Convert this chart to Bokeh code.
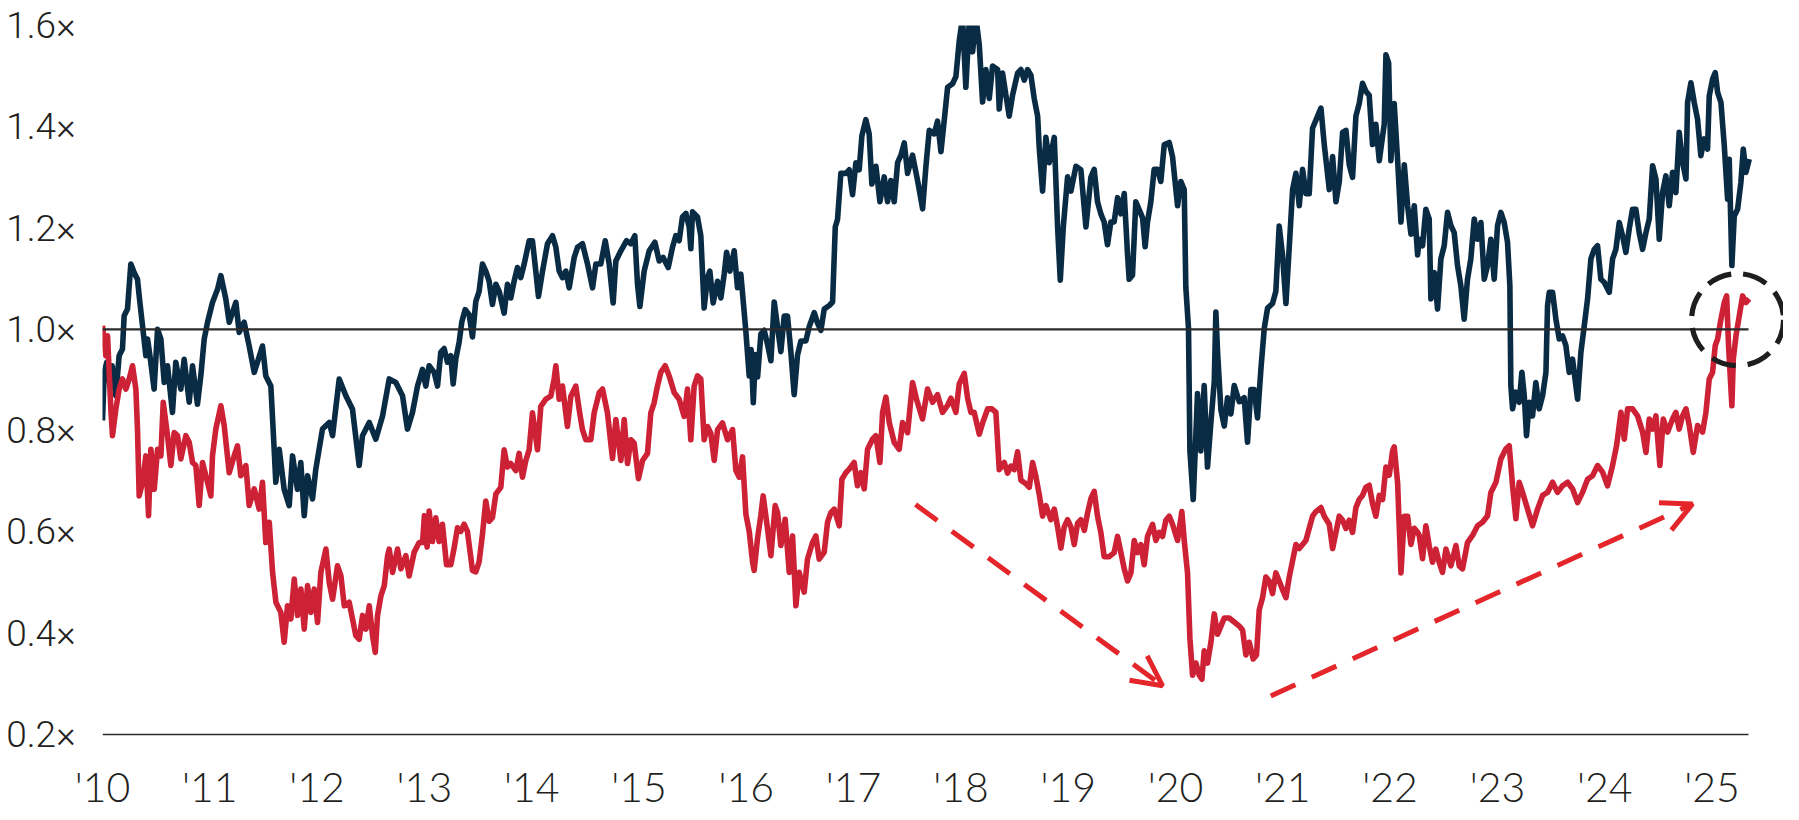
from bokeh.plotting import figure
from bokeh.models import FixedTicker, Arrow, OpenHead, Range1d
from bokeh.embed import file_html
from bokeh.resources import INLINE

# ---------------- data ----------------
navy_years = [
    2010.000, 2010.016, 2010.040, 2010.070, 2010.090, 2010.124, 2010.155, 2010.186, 2010.202, 2010.233,
    2010.264, 2010.295, 2010.326, 2010.345, 2010.373, 2010.404, 2010.420, 2010.450, 2010.481, 2010.513,
    2010.544, 2010.575, 2010.606, 2010.652, 2010.683, 2010.730, 2010.761, 2010.808, 2010.839, 2010.885,
    2010.916, 2010.948, 2010.979, 2011.025, 2011.072, 2011.103, 2011.149, 2011.181, 2011.243, 2011.274,
    2011.320, 2011.367, 2011.414, 2011.491, 2011.522, 2011.569, 2011.600, 2011.615, 2011.647, 2011.693,
    2011.740, 2011.771, 2011.817, 2011.848, 2011.880, 2011.911, 2011.957, 2011.988, 2012.050, 2012.113,
    2012.144, 2012.206, 2012.268, 2012.330, 2012.392, 2012.423, 2012.486, 2012.547, 2012.610, 2012.672,
    2012.734, 2012.796, 2012.842, 2012.889, 2012.936, 2012.982, 2013.013, 2013.044, 2013.091, 2013.122,
    2013.153, 2013.184, 2013.215, 2013.246, 2013.268, 2013.293, 2013.324, 2013.349, 2013.380, 2013.417,
    2013.448, 2013.479, 2013.510, 2013.541, 2013.572, 2013.603, 2013.634, 2013.666, 2013.697, 2013.743,
    2013.774, 2013.805, 2013.836, 2013.867, 2013.898, 2013.930, 2013.976, 2014.007, 2014.038, 2014.063,
    2014.101, 2014.147, 2014.194, 2014.225, 2014.256, 2014.287, 2014.318, 2014.349, 2014.396, 2014.427,
    2014.473, 2014.520, 2014.567, 2014.598, 2014.644, 2014.685, 2014.722, 2014.759, 2014.784, 2014.831,
    2014.884, 2014.924, 2014.961, 2014.986, 2015.008, 2015.048, 2015.095, 2015.148, 2015.188, 2015.225,
    2015.272, 2015.312, 2015.343, 2015.374, 2015.405, 2015.437, 2015.468, 2015.483, 2015.499, 2015.545,
    2015.576, 2015.607, 2015.638, 2015.660, 2015.691, 2015.732, 2015.763, 2015.794, 2015.816, 2015.847,
    2015.887, 2015.918, 2015.949, 2015.974, 2015.996, 2016.027, 2016.045, 2016.065, 2016.085, 2016.105,
    2016.136, 2016.167, 2016.198, 2016.229, 2016.260, 2016.291, 2016.322, 2016.353, 2016.384, 2016.415,
    2016.446, 2016.477, 2016.509, 2016.555, 2016.586, 2016.633, 2016.664, 2016.695, 2016.726, 2016.773,
    2016.804, 2016.829, 2016.850, 2016.881, 2016.928, 2016.959, 2016.990, 2017.021, 2017.052, 2017.077,
    2017.114, 2017.145, 2017.170, 2017.208, 2017.245, 2017.285, 2017.316, 2017.347, 2017.378, 2017.410,
    2017.441, 2017.472, 2017.503, 2017.549, 2017.596, 2017.643, 2017.674, 2017.705, 2017.751, 2017.782,
    2017.814, 2017.845, 2017.876, 2017.922, 2017.953, 2017.984, 2018.015, 2018.046, 2018.078, 2018.109,
    2018.140, 2018.171, 2018.202, 2018.233, 2018.264, 2018.295, 2018.342, 2018.357, 2018.388, 2018.419,
    2018.450, 2018.482, 2018.528, 2018.559, 2018.590, 2018.621, 2018.652, 2018.683, 2018.715, 2018.730,
    2018.761, 2018.792, 2018.823, 2018.870, 2018.901, 2018.926, 2018.954, 2018.994, 2019.025, 2019.072,
    2019.118, 2019.165, 2019.211, 2019.242, 2019.273, 2019.304, 2019.335, 2019.366, 2019.397, 2019.428,
    2019.460, 2019.491, 2019.522, 2019.553, 2019.568, 2019.599, 2019.630, 2019.662, 2019.693, 2019.717,
    2019.739, 2019.770, 2019.801, 2019.832, 2019.863, 2019.895, 2019.941, 2019.972, 2020.019, 2020.050,
    2020.081, 2020.096, 2020.121, 2020.134, 2020.165, 2020.205, 2020.236, 2020.267, 2020.298, 2020.330,
    2020.361, 2020.376, 2020.392, 2020.423, 2020.454, 2020.485, 2020.516, 2020.547, 2020.594, 2020.640,
    2020.671, 2020.702, 2020.733, 2020.764, 2020.796, 2020.827, 2020.858, 2020.904, 2020.935, 2020.966,
    2020.997, 2021.029, 2021.060, 2021.091, 2021.122, 2021.153, 2021.184, 2021.215, 2021.246, 2021.277,
    2021.324, 2021.355, 2021.386, 2021.433, 2021.464, 2021.495, 2021.526, 2021.557, 2021.588, 2021.619,
    2021.650, 2021.681, 2021.712, 2021.743, 2021.774, 2021.805, 2021.836, 2021.867, 2021.899, 2021.945,
    2021.961, 2021.986, 2022.007, 2022.038, 2022.070, 2022.101, 2022.132, 2022.163, 2022.194, 2022.225,
    2022.256, 2022.271, 2022.302, 2022.333, 2022.364, 2022.380, 2022.411, 2022.442, 2022.473, 2022.504,
    2022.535, 2022.566, 2022.597, 2022.628, 2022.659, 2022.690, 2022.721, 2022.752, 2022.784, 2022.815,
    2022.846, 2022.877, 2022.908, 2022.939, 2022.970, 2023.001, 2023.032, 2023.063, 2023.094, 2023.116,
    2023.125, 2023.141, 2023.172, 2023.203, 2023.228, 2023.250, 2023.271, 2023.296, 2023.327, 2023.358,
    2023.389, 2023.421, 2023.452, 2023.467, 2023.483, 2023.514, 2023.545, 2023.576, 2023.607, 2023.638,
    2023.669, 2023.700, 2023.731, 2023.747, 2023.778, 2023.809, 2023.840, 2023.871, 2023.902, 2023.933,
    2023.964, 2023.995, 2024.042, 2024.073, 2024.104, 2024.135, 2024.166, 2024.197, 2024.228, 2024.259,
    2024.290, 2024.321, 2024.353, 2024.384, 2024.415, 2024.446, 2024.477, 2024.508, 2024.539, 2024.570,
    2024.601, 2024.632, 2024.663, 2024.694, 2024.725, 2024.757, 2024.772, 2024.803, 2024.834, 2024.865,
    2024.896, 2024.927, 2024.958, 2024.974, 2025.005, 2025.030, 2025.052, 2025.083, 2025.114, 2025.145,
    2025.160, 2025.185, 2025.207, 2025.238, 2025.269, 2025.291, 2025.316, 2025.347,
]
navy_values = [
    0.820, 0.915, 0.935, 0.889, 0.928, 0.869, 0.948, 0.961, 1.027, 1.040,
    1.129, 1.112, 1.099, 1.060, 1.007, 0.948, 0.981, 0.935, 0.882, 1.000,
    0.981, 0.895, 0.928, 0.836, 0.935, 0.882, 0.941, 0.856, 0.928, 0.852,
    0.908, 0.981, 1.014, 1.053, 1.079, 1.106, 1.060, 1.014, 1.053, 0.994,
    1.014, 0.967, 0.915, 0.967, 0.908, 0.888, 0.763, 0.698, 0.763, 0.684,
    0.652, 0.750, 0.684, 0.737, 0.632, 0.711, 0.665, 0.724, 0.803, 0.816,
    0.790, 0.902, 0.869, 0.842, 0.731, 0.790, 0.816, 0.783, 0.829, 0.902,
    0.895, 0.869, 0.803, 0.836, 0.888, 0.921, 0.888, 0.928, 0.915, 0.888,
    0.955, 0.962, 0.935, 0.948, 0.892, 0.942, 0.975, 1.015, 1.039, 1.029,
    0.985, 1.055, 1.075, 1.129, 1.115, 1.095, 1.049, 1.089, 1.075, 1.032,
    1.089, 1.062, 1.095, 1.122, 1.102, 1.129, 1.175, 1.175, 1.115, 1.065,
    1.115, 1.169, 1.185, 1.162, 1.115, 1.102, 1.115, 1.082, 1.142, 1.162,
    1.169, 1.129, 1.082, 1.129, 1.129, 1.175, 1.129, 1.052, 1.135, 1.155,
    1.175, 1.169, 1.185, 1.089, 1.045, 1.115, 1.155, 1.172, 1.135, 1.142,
    1.122, 1.162, 1.185, 1.175, 1.222, 1.229, 1.202, 1.159, 1.232, 1.222,
    1.185, 1.042, 1.102, 1.115, 1.052, 1.095, 1.062, 1.109, 1.152, 1.115,
    1.155, 1.082, 1.109, 1.049, 0.995, 0.908, 0.960, 0.855, 0.950, 0.906,
    0.991, 0.998, 0.970, 0.938, 1.054, 1.005, 0.956, 1.026, 1.026, 0.956,
    0.871, 0.949, 0.977, 0.977, 1.005, 1.033, 1.012, 0.998, 1.040, 1.047,
    1.054, 1.202, 1.217, 1.308, 1.308, 1.315, 1.266, 1.329, 1.315, 1.382,
    1.414, 1.386, 1.287, 1.322, 1.252, 1.301, 1.252, 1.294, 1.252, 1.329,
    1.344, 1.368, 1.308, 1.344, 1.294, 1.238, 1.322, 1.393, 1.386, 1.411,
    1.351, 1.414, 1.478, 1.485, 1.499, 1.569, 1.615, 1.478, 1.610, 1.548,
    1.615, 1.562, 1.449, 1.513, 1.456, 1.520, 1.513, 1.435, 1.506, 1.463,
    1.421, 1.463, 1.506, 1.513, 1.492, 1.513, 1.502, 1.456, 1.421, 1.358,
    1.273, 1.379, 1.329, 1.379, 1.202, 1.097, 1.202, 1.301, 1.273, 1.322,
    1.315, 1.202, 1.300, 1.316, 1.252, 1.228, 1.212, 1.167, 1.212, 1.212,
    1.260, 1.228, 1.268, 1.147, 1.099, 1.107, 1.252, 1.236, 1.220, 1.163,
    1.212, 1.252, 1.316, 1.316, 1.292, 1.365, 1.369, 1.341, 1.244, 1.292,
    1.276, 1.083, 1.002, 0.760, 0.664, 0.873, 0.760, 0.889, 0.728, 0.817,
    0.897, 1.034, 0.954, 0.841, 0.809, 0.865, 0.833, 0.889, 0.857, 0.865,
    0.777, 0.881, 0.881, 0.825, 0.922, 1.002, 1.042, 1.051, 1.075, 1.204,
    1.147, 1.051, 1.163, 1.276, 1.308, 1.244, 1.316, 1.268, 1.268, 1.397,
    1.421, 1.437, 1.365, 1.276, 1.341, 1.252, 1.292, 1.389, 1.393, 1.325,
    1.300, 1.421, 1.446, 1.486, 1.470, 1.462, 1.365, 1.405, 1.333, 1.405,
    1.542, 1.526, 1.333, 1.446, 1.333, 1.212, 1.325, 1.244, 1.188, 1.244,
    1.147, 1.178, 1.165, 1.237, 1.218, 1.060, 1.112, 1.040, 1.139, 1.165,
    1.231, 1.205, 1.191, 1.126, 1.086, 1.020, 1.099, 1.139, 1.218, 1.178,
    1.211, 1.099, 1.126, 1.178, 1.099, 1.205, 1.231, 1.211, 1.172, 1.086,
    0.889, 0.843, 0.876, 0.856, 0.915, 0.869, 0.790, 0.856, 0.829, 0.895,
    0.843, 0.869, 0.915, 1.047, 1.073, 1.073, 1.020, 0.981, 0.987, 0.968,
    0.915, 0.941, 0.889, 0.862, 0.955, 1.007, 1.060, 1.139, 1.158, 1.165,
    1.099, 1.093, 1.073, 1.139, 1.158, 1.211, 1.185, 1.152, 1.198, 1.237,
    1.237, 1.191, 1.158, 1.191, 1.218, 1.323, 1.297, 1.178, 1.270, 1.303,
    1.244, 1.310, 1.270, 1.389, 1.330, 1.297, 1.448, 1.487, 1.448, 1.415,
    1.343, 1.376, 1.356, 1.461, 1.494, 1.507, 1.468, 1.448, 1.363, 1.257,
    1.336, 1.126, 1.224, 1.237, 1.290, 1.356, 1.310, 1.336,
]

red_years = [
    2010.000, 2010.031, 2010.047, 2010.078, 2010.093, 2010.124, 2010.155, 2010.186, 2010.218, 2010.249,
    2010.280, 2010.311, 2010.326, 2010.342, 2010.373, 2010.404, 2010.429, 2010.451, 2010.482, 2010.513,
    2010.544, 2010.566, 2010.606, 2010.637, 2010.668, 2010.699, 2010.730, 2010.777, 2010.808, 2010.839,
    2010.870, 2010.901, 2010.932, 2010.963, 2011.010, 2011.025, 2011.056, 2011.103, 2011.134, 2011.181,
    2011.227, 2011.258, 2011.289, 2011.336, 2011.367, 2011.414, 2011.460, 2011.491, 2011.522, 2011.554,
    2011.585, 2011.616, 2011.662, 2011.693, 2011.724, 2011.755, 2011.787, 2011.818, 2011.849, 2011.880,
    2011.911, 2011.942, 2011.973, 2012.004, 2012.035, 2012.082, 2012.113, 2012.144, 2012.190, 2012.222,
    2012.253, 2012.299, 2012.330, 2012.361, 2012.392, 2012.424, 2012.455, 2012.486, 2012.517, 2012.542,
    2012.563, 2012.595, 2012.626, 2012.657, 2012.672, 2012.703, 2012.750, 2012.781, 2012.827, 2012.858,
    2012.905, 2012.951, 2012.983, 2013.000, 2013.025, 2013.044, 2013.075, 2013.106, 2013.137, 2013.168,
    2013.206, 2013.246, 2013.277, 2013.308, 2013.339, 2013.370, 2013.401, 2013.448, 2013.479, 2013.510,
    2013.541, 2013.572, 2013.603, 2013.634, 2013.666, 2013.712, 2013.743, 2013.774, 2013.805, 2013.852,
    2013.883, 2013.914, 2013.945, 2013.976, 2014.007, 2014.054, 2014.085, 2014.132, 2014.178, 2014.209,
    2014.225, 2014.256, 2014.287, 2014.333, 2014.365, 2014.411, 2014.442, 2014.473, 2014.504, 2014.551,
    2014.582, 2014.629, 2014.660, 2014.706, 2014.753, 2014.784, 2014.831, 2014.862, 2014.893, 2014.924,
    2014.955, 2014.995, 2015.033, 2015.079, 2015.110, 2015.141, 2015.172, 2015.203, 2015.244, 2015.281,
    2015.328, 2015.374, 2015.421, 2015.452, 2015.483, 2015.514, 2015.545, 2015.576, 2015.607, 2015.638,
    2015.669, 2015.701, 2015.732, 2015.778, 2015.825, 2015.872, 2015.903, 2015.934, 2015.965, 2015.996,
    2016.027, 2016.058, 2016.073, 2016.104, 2016.135, 2016.157, 2016.198, 2016.229, 2016.269, 2016.291,
    2016.322, 2016.362, 2016.400, 2016.431, 2016.462, 2016.493, 2016.539, 2016.570, 2016.617, 2016.648,
    2016.679, 2016.726, 2016.757, 2016.788, 2016.819, 2016.866, 2016.891, 2016.928, 2016.959, 2017.005,
    2017.036, 2017.068, 2017.099, 2017.130, 2017.176, 2017.207, 2017.245, 2017.270, 2017.301, 2017.332,
    2017.378, 2017.425, 2017.456, 2017.503, 2017.549, 2017.586, 2017.642, 2017.689, 2017.736, 2017.782,
    2017.829, 2017.876, 2017.907, 2017.953, 2017.984, 2018.031, 2018.062, 2018.093, 2018.124, 2018.171,
    2018.202, 2018.249, 2018.289, 2018.326, 2018.357, 2018.404, 2018.435, 2018.466, 2018.497, 2018.528,
    2018.559, 2018.606, 2018.637, 2018.668, 2018.699, 2018.730, 2018.761, 2018.792, 2018.839, 2018.870,
    2018.901, 2018.932, 2018.963, 2018.994, 2019.025, 2019.056, 2019.087, 2019.118, 2019.150, 2019.181,
    2019.212, 2019.242, 2019.273, 2019.304, 2019.335, 2019.382, 2019.428, 2019.460, 2019.491, 2019.522,
    2019.553, 2019.584, 2019.615, 2019.646, 2019.677, 2019.708, 2019.739, 2019.786, 2019.817, 2019.848,
    2019.879, 2019.910, 2019.941, 2019.972, 2020.019, 2020.059, 2020.081, 2020.112, 2020.134, 2020.159,
    2020.190, 2020.221, 2020.246, 2020.267, 2020.298, 2020.330, 2020.361, 2020.392, 2020.423, 2020.454,
    2020.500, 2020.547, 2020.594, 2020.625, 2020.656, 2020.687, 2020.724, 2020.755, 2020.780, 2020.811,
    2020.842, 2020.873, 2020.904, 2020.935, 2020.966, 2020.997, 2021.029, 2021.060, 2021.091, 2021.122,
    2021.153, 2021.184, 2021.215, 2021.246, 2021.277, 2021.308, 2021.355, 2021.386, 2021.433, 2021.464,
    2021.495, 2021.526, 2021.557, 2021.588, 2021.619, 2021.650, 2021.681, 2021.712, 2021.743, 2021.774,
    2021.805, 2021.836, 2021.867, 2021.899, 2021.930, 2021.961, 2021.992, 2022.023, 2022.038, 2022.070,
    2022.101, 2022.132, 2022.163, 2022.194, 2022.225, 2022.256, 2022.271, 2022.302, 2022.333, 2022.364,
    2022.395, 2022.426, 2022.457, 2022.488, 2022.520, 2022.566, 2022.613, 2022.644, 2022.675, 2022.721,
    2022.768, 2022.815, 2022.861, 2022.908, 2022.939, 2022.986, 2023.032, 2023.079, 2023.110, 2023.141,
    2023.172, 2023.203, 2023.234, 2023.281, 2023.327, 2023.374, 2023.421, 2023.467, 2023.514, 2023.560,
    2023.607, 2023.654, 2023.700, 2023.747, 2023.793, 2023.840, 2023.887, 2023.933, 2023.980, 2024.026,
    2024.073, 2024.110, 2024.151, 2024.182, 2024.213, 2024.259, 2024.306, 2024.353, 2024.384, 2024.415,
    2024.446, 2024.477, 2024.514, 2024.545, 2024.586, 2024.632, 2024.663, 2024.694, 2024.725, 2024.757,
    2024.788, 2024.825, 2024.865, 2024.912, 2024.943, 2024.974, 2025.005, 2025.030, 2025.052, 2025.083,
    2025.114, 2025.136, 2025.154, 2025.185, 2025.198, 2025.223, 2025.254, 2025.285, 2025.316, 2025.347,
]
red_values = [
    1.007, 0.948, 0.987, 0.842, 0.790, 0.842, 0.882, 0.902, 0.882, 0.902,
    0.928, 0.882, 0.803, 0.671, 0.698, 0.750, 0.632, 0.763, 0.684, 0.763,
    0.750, 0.856, 0.790, 0.731, 0.796, 0.790, 0.744, 0.790, 0.777, 0.737,
    0.731, 0.652, 0.737, 0.711, 0.671, 0.750, 0.803, 0.849, 0.810, 0.717,
    0.750, 0.770, 0.711, 0.731, 0.652, 0.685, 0.645, 0.698, 0.579, 0.619,
    0.520, 0.461, 0.441, 0.382, 0.454, 0.428, 0.507, 0.435, 0.487, 0.408,
    0.494, 0.441, 0.487, 0.421, 0.520, 0.566, 0.500, 0.467, 0.533, 0.513,
    0.454, 0.461, 0.428, 0.395, 0.388, 0.435, 0.408, 0.454, 0.395, 0.362,
    0.435, 0.474, 0.494, 0.553, 0.566, 0.520, 0.566, 0.527, 0.553, 0.513,
    0.560, 0.579, 0.579, 0.632, 0.570, 0.641, 0.581, 0.628, 0.581, 0.615,
    0.535, 0.535, 0.568, 0.608, 0.601, 0.615, 0.601, 0.524, 0.521, 0.541,
    0.595, 0.661, 0.621, 0.628, 0.675, 0.688, 0.762, 0.728, 0.735, 0.721,
    0.755, 0.708, 0.741, 0.762, 0.835, 0.762, 0.848, 0.862, 0.868, 0.902,
    0.928, 0.862, 0.888, 0.808, 0.868, 0.888, 0.842, 0.802, 0.782, 0.782,
    0.835, 0.875, 0.882, 0.835, 0.745, 0.822, 0.741, 0.822, 0.735, 0.782,
    0.775, 0.705, 0.741, 0.755, 0.835, 0.855, 0.888, 0.915, 0.928, 0.908,
    0.875, 0.862, 0.828, 0.882, 0.782, 0.888, 0.908, 0.902, 0.782, 0.808,
    0.795, 0.741, 0.802, 0.815, 0.782, 0.802, 0.721, 0.708, 0.748, 0.635,
    0.601, 0.541, 0.524, 0.586, 0.632, 0.671, 0.606, 0.553, 0.652, 0.638,
    0.573, 0.625, 0.520, 0.592, 0.454, 0.520, 0.481, 0.546, 0.579, 0.592,
    0.546, 0.560, 0.619, 0.638, 0.645, 0.612, 0.704, 0.717, 0.724, 0.737,
    0.691, 0.717, 0.685, 0.763, 0.783, 0.790, 0.737, 0.836, 0.866, 0.816,
    0.777, 0.763, 0.816, 0.796, 0.895, 0.862, 0.823, 0.882, 0.856, 0.871,
    0.836, 0.850, 0.864, 0.836, 0.892, 0.913, 0.864, 0.836, 0.836, 0.793,
    0.815, 0.843, 0.843, 0.836, 0.723, 0.737, 0.716, 0.730, 0.723, 0.758,
    0.702, 0.695, 0.688, 0.737, 0.709, 0.674, 0.631, 0.652, 0.624, 0.645,
    0.610, 0.568, 0.610, 0.624, 0.610, 0.575, 0.617, 0.624, 0.603, 0.638,
    0.666, 0.680, 0.631, 0.599, 0.551, 0.551, 0.559, 0.591, 0.559, 0.527,
    0.503, 0.519, 0.583, 0.559, 0.575, 0.535, 0.591, 0.615, 0.583, 0.599,
    0.591, 0.623, 0.631, 0.615, 0.583, 0.640, 0.583, 0.519, 0.390, 0.317,
    0.341, 0.317, 0.309, 0.365, 0.341, 0.382, 0.438, 0.398, 0.414, 0.430,
    0.430, 0.422, 0.414, 0.406, 0.357, 0.382, 0.349, 0.357, 0.446, 0.470,
    0.511, 0.503, 0.478, 0.519, 0.503, 0.486, 0.470, 0.511, 0.543, 0.575,
    0.567, 0.575, 0.583, 0.607, 0.631, 0.640, 0.648, 0.631, 0.615, 0.567,
    0.599, 0.631, 0.623, 0.607, 0.623, 0.599, 0.648, 0.664, 0.672, 0.688,
    0.692, 0.656, 0.631, 0.672, 0.664, 0.728, 0.712, 0.760, 0.768, 0.696,
    0.519, 0.631, 0.631, 0.575, 0.607, 0.599, 0.593, 0.547, 0.612, 0.573,
    0.540, 0.566, 0.540, 0.520, 0.566, 0.533, 0.573, 0.533, 0.527, 0.579,
    0.593, 0.612, 0.619, 0.632, 0.678, 0.698, 0.744, 0.764, 0.770, 0.691,
    0.626, 0.698, 0.678, 0.645, 0.612, 0.645, 0.672, 0.678, 0.698, 0.678,
    0.691, 0.698, 0.685, 0.658, 0.678, 0.704, 0.711, 0.731, 0.718, 0.691,
    0.731, 0.770, 0.836, 0.783, 0.843, 0.843, 0.829, 0.797, 0.757, 0.823,
    0.803, 0.829, 0.731, 0.823, 0.797, 0.823, 0.836, 0.803, 0.829, 0.843,
    0.810, 0.757, 0.810, 0.797, 0.836, 0.902, 0.915, 0.968, 0.981, 1.020,
    1.053, 1.066, 0.968, 0.849, 0.941, 0.987, 1.027, 1.066, 1.053, 1.060,
]

year_ticks = list(range(2010, 2026))
year_labels = ["'10", "'11", "'12", "'13", "'14", "'15", "'16", "'17",
               "'18", "'19", "'20", "'21", "'22", "'23", "'24", "'25"]
value_ticks = [0.2, 0.4, 0.6, 0.8, 1.0, 1.2, 1.4, 1.6]
value_labels = ["0.2×", "0.4×", "0.6×", "0.8×", "1.0×", "1.2×", "1.4×", "1.6×"]

# reference line, axis baseline and annotation anchors
parity_level = 1.0
baseline_level = 0.2
rule_start, rule_end = 2010.0, 2025.34
arrow_down_from, arrow_down_to = (2017.577, 0.654), (2019.879, 0.296)
arrow_up_from, arrow_up_to = (2020.888, 0.276), (2024.818, 0.655)
highlight_point = (2025.238, 1.019)

# ---------------- styles ----------------
NAVY = "#0a2b44"
RED = "#cd2135"
ARROW_RED = "#e4262b"
INK = "#231f20"

p = figure(
    frame_width=1681, frame_height=714,
    x_range=Range1d(2010.0, 2025.666), y_range=Range1d(0.19, 1.6),
    output_backend="svg", toolbar_location=None, title=None,
    min_border_left=102, min_border_right=0, min_border_top=25, min_border_bottom=40,
    background_fill_color="white", border_fill_color="white",
)
p.outline_line_color = None
p.xgrid.grid_line_color = None
p.ygrid.grid_line_color = None

for ax in (p.xaxis[0], p.yaxis[0]):
    ax.axis_line_color = None
    ax.major_tick_line_color = None
    ax.minor_tick_line_color = None
    ax.major_tick_out = 0
    ax.major_tick_in = 0
    ax.major_label_text_color = INK

p.xaxis.ticker = FixedTicker(ticks=year_ticks)
p.xaxis.major_label_overrides = {t: l for t, l in zip(year_ticks, year_labels)}
p.xaxis.major_label_text_font = "Lato Light"
p.xaxis.major_label_text_font_size = "41px"
p.xaxis.major_label_standoff = 22

p.yaxis.ticker = FixedTicker(ticks=value_ticks)
p.yaxis.major_label_overrides = {t: l for t, l in zip(value_ticks, value_labels)}
p.yaxis.major_label_text_font = "Roboto Light"
p.yaxis.major_label_text_font_size = "37px"
p.yaxis.major_label_standoff = 27

# series
p.line(navy_years, navy_values, line_color=NAVY, line_width=5.6, line_join="round")
p.line(red_years, red_values, line_color=RED, line_width=5.6, line_join="round")

# parity rule and baseline
p.segment(x0=[rule_start], y0=[parity_level], x1=[rule_end], y1=[parity_level],
          line_color="#2a2a2a", line_width=2.4)
p.segment(x0=[rule_start], y0=[baseline_level], x1=[rule_end], y1=[baseline_level],
          line_color="#2a2a2a", line_width=1.6)

# dashed highlight circle
p.scatter(x=[highlight_point[0]], y=[highlight_point[1]], marker="circle", size=92,
          fill_color=None, line_color="#1e1e1e", line_width=5.2, line_dash="25 12")

# dashed arrows
for (x0, y0), (x1, y1) in ((arrow_down_from, arrow_down_to), (arrow_up_from, arrow_up_to)):
    p.add_layout(Arrow(
        end=OpenHead(size=30, line_color=ARROW_RED, line_width=5),
        x_start=x0, y_start=y0, x_end=x1, y_end=y1,
        line_color=ARROW_RED, line_width=5, line_dash="27 18",
    ))

open("out.html", "w").write(file_html(p, INLINE))
